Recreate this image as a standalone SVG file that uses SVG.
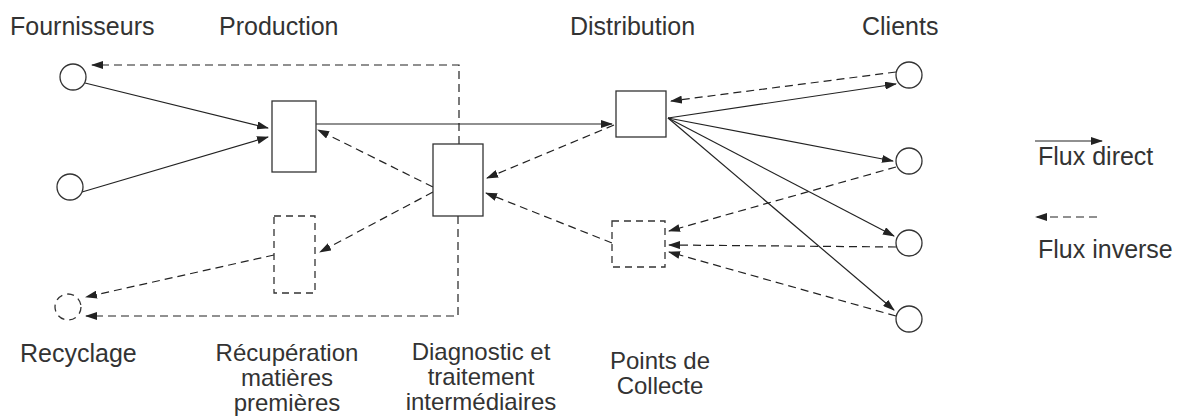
<svg xmlns="http://www.w3.org/2000/svg" width="1181" height="416" viewBox="0 0 1181 416">
<defs>
<marker id="ah" markerWidth="12" markerHeight="8" refX="11" refY="4" orient="auto" markerUnits="userSpaceOnUse">
<path d="M0,0 L12,4 L0,8 Z" fill="#222"/>
</marker>
<style>
.n{fill:#fff;stroke:#333;stroke-width:1.3}
.nd{fill:#fff;stroke:#333;stroke-width:1.3;stroke-dasharray:7,5}
.s{fill:none;stroke:#222;stroke-width:1.2}
.d{fill:none;stroke:#222;stroke-width:1.2;stroke-dasharray:8,5}
text{font-family:"Liberation Sans",Arial,sans-serif;font-size:25px;fill:#333}
.m{font-size:24px}
.c{text-anchor:middle}
</style>
</defs>
<rect width="1181" height="416" fill="#fff"/>
<g id="connectors">
<line class="s" x1="85" y1="83" x2="268" y2="128" marker-end="url(#ah)"/>
<line class="s" x1="82" y1="192" x2="268" y2="137" marker-end="url(#ah)"/>
<line class="s" x1="316" y1="124" x2="612" y2="124" marker-end="url(#ah)"/>
<line class="s" x1="668" y1="118" x2="896" y2="84" marker-end="url(#ah)"/>
<line class="s" x1="668" y1="118" x2="893" y2="161" marker-end="url(#ah)"/>
<line class="s" x1="668" y1="118" x2="894" y2="236" marker-end="url(#ah)"/>
<line class="s" x1="668" y1="118" x2="894" y2="310" marker-end="url(#ah)"/>
<line class="d" x1="896" y1="72" x2="671" y2="101" marker-end="url(#ah)"/>
<line class="d" x1="896" y1="167" x2="669" y2="231" marker-end="url(#ah)"/>
<line class="d" x1="896" y1="247" x2="669" y2="245" marker-end="url(#ah)"/>
<line class="d" x1="896" y1="316" x2="669" y2="252" marker-end="url(#ah)"/>
<line class="d" x1="614" y1="125" x2="487" y2="178" marker-end="url(#ah)"/>
<line class="d" x1="612" y1="243" x2="486" y2="193" marker-end="url(#ah)"/>
<line class="d" x1="433" y1="187" x2="318" y2="130" marker-end="url(#ah)"/>
<line class="d" x1="433" y1="192" x2="320" y2="252" marker-end="url(#ah)"/>
<line class="d" x1="274" y1="255" x2="86" y2="297" marker-end="url(#ah)"/>
<polyline class="d" points="459,144 459,65 92,65" marker-end="url(#ah)"/>
<polyline class="d" points="458,216 458,316 86,316" marker-end="url(#ah)"/>
<line class="s" x1="1035" y1="141" x2="1102" y2="141" marker-end="url(#ah)"/>
<line class="d" x1="1097" y1="217" x2="1036" y2="217" stroke-dasharray="5,4" marker-end="url(#ah)"/>
</g>
<g id="f1"><circle class="n" cx="73" cy="77" r="13"/></g>
<g id="f2"><circle class="n" cx="70" cy="187" r="13"/></g>
<g id="recyclage"><circle class="nd" cx="68" cy="307" r="13" stroke-dasharray="5,4"/></g>
<g id="production"><rect class="n" x="272" y="101" width="44" height="71"/></g>
<g id="recuperation"><rect class="nd" x="274" y="216" width="41" height="77"/></g>
<g id="diagnostic"><rect class="n" x="433" y="144" width="50" height="72"/></g>
<g id="distribution"><rect class="n" x="616" y="91" width="50" height="46"/></g>
<g id="collecte"><rect class="nd" x="612" y="221" width="53" height="46"/></g>
<g id="c1"><circle class="n" cx="909" cy="75" r="13"/></g>
<g id="c2"><circle class="n" cx="909" cy="161" r="13"/></g>
<g id="c3"><circle class="n" cx="909" cy="243" r="13"/></g>
<g id="c4"><circle class="n" cx="909" cy="319" r="13"/></g>
<g id="labels">
<text x="10" y="35">Fournisseurs</text>
<text x="219" y="35">Production</text>
<text x="570" y="35">Distribution</text>
<text x="862" y="35">Clients</text>
<text x="1038" y="165">Flux direct</text>
<text x="1038" y="258">Flux inverse</text>
<text x="20" y="362">Recyclage</text>
<text class="c m" x="287" y="361">Récupération</text>
<text class="c m" x="287" y="386">matières</text>
<text class="c m" x="287" y="411">premières</text>
<text class="c m" x="481" y="360">Diagnostic et</text>
<text class="c m" x="481" y="385">traitement</text>
<text class="c m" x="481" y="410">intermédiaires</text>
<text class="c m" x="660" y="369">Points de</text>
<text class="c m" x="660" y="394">Collecte</text>
</g>
</svg>
